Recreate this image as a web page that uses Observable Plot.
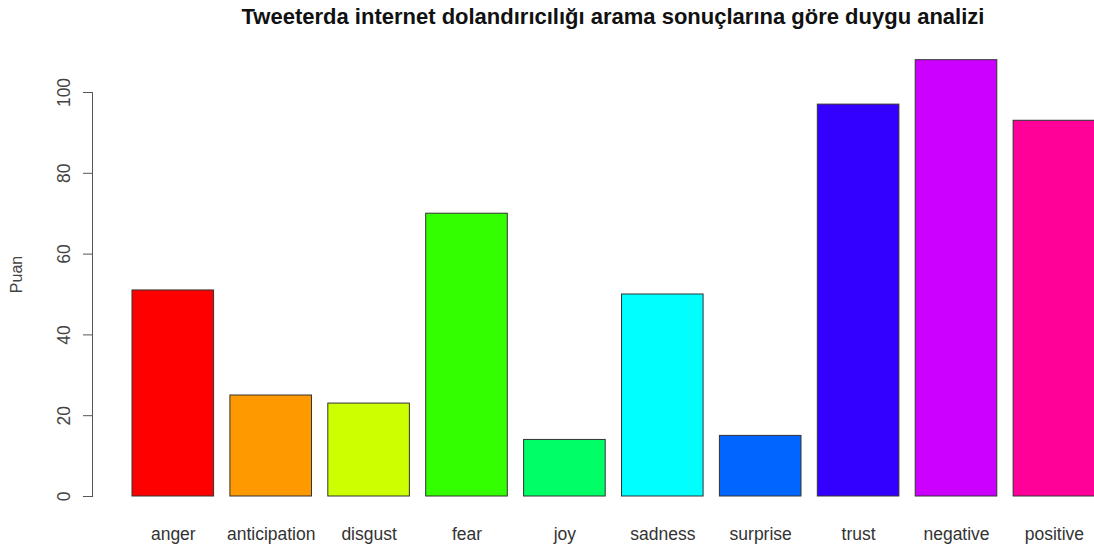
<!DOCTYPE html>
<html>
<head>
<meta charset="utf-8">
<script src="https://cdn.jsdelivr.net/npm/d3@7"></script>
<script src="https://cdn.jsdelivr.net/npm/@observablehq/plot@0.6"></script>
<style>
  html, body { margin: 0; padding: 0; background: #fff; overflow: hidden; }
  #wrap { position: relative; width: 1094px; height: 550px; overflow: hidden; }
  #title { position: absolute; left: 0; top: 4px; width: 1226px; text-align: center;
           font-family: "Liberation Sans", Arial, sans-serif; font-weight: bold; font-size: 22px; color: #111; }
</style>
</head>
<body>
<div id="wrap">
  <div id="title">Tweeterda internet dolandırıcılığı arama sonuçlarına göre duygu analizi</div>
</div>
<script>
const categories = ["anger", "anticipation", "disgust", "fear", "joy", "sadness", "surprise", "trust", "negative", "positive"];
const scores = [51, 25, 23, 70, 14, 50, 15, 97, 108, 93];
const colors = ["#FF0000", "#FF9900", "#CCFF00", "#33FF00", "#00FF66", "#00FFFF", "#0066FF", "#3300FF", "#CC00FF", "#FF0099"];
const yTicks = [0, 20, 40, 60, 80, 100];
const yLabel = "Puan";

const data = categories.map((c, i) => ({category: c, score: scores[i], color: colors[i]}));

const W = 1094, H = 550;
const y0 = 496, pxPerUnit = 4.04;
const font = "'Liberation Sans', Arial, sans-serif";

const chart = Plot.plot({
  width: W,
  height: H,
  marginLeft: 92,
  marginTop: y0 - 100 * pxPerUnit,
  marginBottom: H - y0,
  marginRight: 0,
  style: {fontFamily: font, fontSize: "17px", color: "#444", background: "white"},
  x: {domain: categories, range: [132, 1094.7], paddingInner: 0.2 / 1.2, paddingOuter: 0, align: 0.5, round: false},
  y: {domain: [0, 108], range: [y0, y0 - 108 * pxPerUnit]},
  marks: [
    Plot.barY(data, {x: "category", y: "score", fill: "color", stroke: "#333", strokeWidth: 1}),
    Plot.frame({anchor: "left", stroke: "#555"}),
    Plot.axisY({ticks: yTicks, tickSize: 9, tickPadding: 14, tickRotate: -90, stroke: "#555", fill: "#444", fontSize: 17.5, label: null}),
    Plot.axisX({tickSize: 0, tickPadding: 31, fill: "#333", fontSize: 17.5, label: null}),
    Plot.text([yLabel], {frameAnchor: "left", textAnchor: "middle", lineAnchor: "middle", rotate: -90, dx: -76, dy: -20, fontSize: 16, fill: "#444"})
  ]
});
document.getElementById("wrap").appendChild(chart);
</script>
</body>
</html>
